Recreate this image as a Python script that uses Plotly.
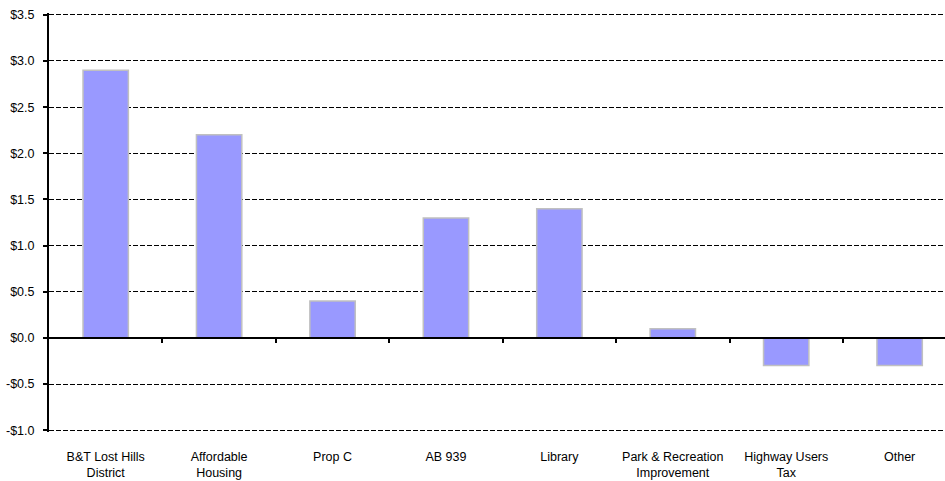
import plotly.graph_objects as go

categories = [
    "B&T Lost Hills<br>District",
    "Affordable<br>Housing",
    "Prop C",
    "AB 939",
    "Library",
    "Park & Recreation<br>Improvement",
    "Highway Users<br>Tax",
    "Other",
]
values = [2.9, 2.2, 0.4, 1.3, 1.4, 0.1, -0.3, -0.3]

y_ticks = [-1.0, -0.5, 0.0, 0.5, 1.0, 1.5, 2.0, 2.5, 3.0, 3.5]
y_tick_text = ["-$1.0", "-$0.5", "$0.0", "$0.5", "$1.0", "$1.5", "$2.0", "$2.5", "$3.0", "$3.5"]
y_min, y_max = -1.0, 3.5
pad = 0.02  # small pad so the edge gridlines are still drawn
x_range = [-0.5, 7.4]  # last category runs past the right edge of the page

fig = go.Figure()
fig.add_trace(go.Bar(
    x=list(range(len(categories))),
    y=values,
    width=0.4,
    marker=dict(color="#9999FF", line=dict(color="#C0C0C0", width=1.5)),
    hoverinfo="skip",
))

# Category-boundary ticks drawn on an axis sitting at the zero line
zero_pos = (0 - (y_min - pad)) / ((y_max + pad) - (y_min - pad))
boundaries = [i + 0.5 for i in range(len(categories) - 1)]

fig.update_layout(
    width=945, height=481,
    margin=dict(l=49, r=0, t=13, b=49),
    paper_bgcolor="white", plot_bgcolor="white",
    font=dict(family="Liberation Sans, Arial, sans-serif", size=12, color="black"),
    showlegend=False,
    xaxis=dict(
        range=x_range,
        tickmode="array",
        tickvals=list(range(len(categories))),
        ticktext=categories,
        showgrid=False, zeroline=False, showline=False, ticks="",
        tickfont=dict(size=12.5),
        ticklabelstandoff=15,
        automargin=False,
    ),
    xaxis2=dict(
        overlaying="x", anchor="free", position=zero_pos,
        range=x_range,
        tickmode="array", tickvals=boundaries,
        ticks="outside", ticklen=4, tickwidth=1.5, tickcolor="black",
        showticklabels=False, showgrid=False, zeroline=False,
        showline=True, linecolor="black", linewidth=2,
        automargin=False,
    ),
    yaxis=dict(
        range=[y_min - pad, y_max + pad],
        tickmode="array", tickvals=y_ticks, ticktext=y_tick_text,
        showgrid=True, gridcolor="black", griddash="5px,2px", gridwidth=1,
        zeroline=False,
        showline=True, linecolor="black", linewidth=2,
        ticks="outside", ticklen=4, tickcolor="black", tickwidth=1.5,
        tickfont=dict(size=12.5),
        ticklabelstandoff=6,
        automargin=False,
    ),
)

# invisible trace to make xaxis2 render
fig.add_trace(go.Scatter(x=[0], y=[0], xaxis="x2", mode="markers",
                         marker=dict(opacity=0), hoverinfo="skip"))

fig.write_html("out.html")
